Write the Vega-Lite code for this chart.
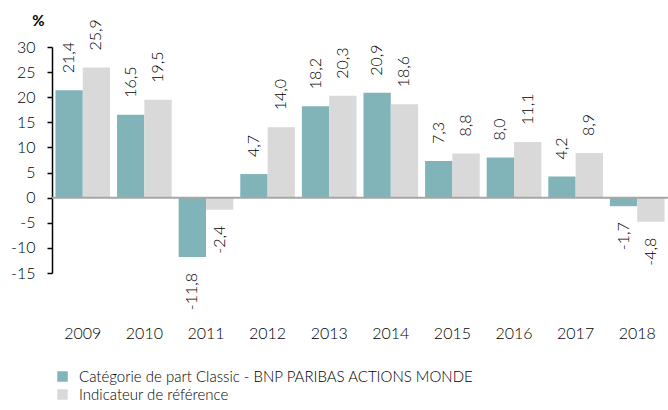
{
  "$schema": "https://vega.github.io/schema/vega-lite/v6.json",
  "width": 616,
  "height": 226,
  "autosize": "none",
  "padding": {"left": 52, "top": 47, "right": 0, "bottom": 137},
  "config": {
    "view": {"stroke": null},
    "font": "Lato",
    "locale": {"number": {"decimal": ",", "thousands": " ", "grouping": [3], "currency": ["", " €"], "minus": "-"}},
    "axis": {"labelFontSize": 16, "labelColor": "#000", "labelFontWeight": 300, "grid": false},
    "axisX": {"domain": false, "ticks": false, "labelPadding": 52, "labelAngle": 0},
    "axisY": {"labelOverlap": false, "labelFlush": false, "domainColor": "#000", "domainWidth": 1.5, "tickColor": "#000", "tickWidth": 1.5, "tickSize": 5, "labelPadding": 12,
      "titleAngle": 0, "titleX": -14, "titleY": -27, "titleAlign": "center", "titleBaseline": "middle", "titleFontSize": 15, "titleFontWeight": "bold", "titleColor": "#000"},
    "legend": {"labelFontWeight": 300}
  },
  "data": {"values": [
    {"year": "2009", "series": "Catégorie de part Classic - BNP PARIBAS ACTIONS MONDE", "value": 21.4},
    {"year": "2009", "series": "Indicateur de référence", "value": 25.9},
    {"year": "2010", "series": "Catégorie de part Classic - BNP PARIBAS ACTIONS MONDE", "value": 16.5},
    {"year": "2010", "series": "Indicateur de référence", "value": 19.5},
    {"year": "2011", "series": "Catégorie de part Classic - BNP PARIBAS ACTIONS MONDE", "value": -11.8},
    {"year": "2011", "series": "Indicateur de référence", "value": -2.4},
    {"year": "2012", "series": "Catégorie de part Classic - BNP PARIBAS ACTIONS MONDE", "value": 4.7},
    {"year": "2012", "series": "Indicateur de référence", "value": 14.0},
    {"year": "2013", "series": "Catégorie de part Classic - BNP PARIBAS ACTIONS MONDE", "value": 18.2},
    {"year": "2013", "series": "Indicateur de référence", "value": 20.3},
    {"year": "2014", "series": "Catégorie de part Classic - BNP PARIBAS ACTIONS MONDE", "value": 20.9},
    {"year": "2014", "series": "Indicateur de référence", "value": 18.6},
    {"year": "2015", "series": "Catégorie de part Classic - BNP PARIBAS ACTIONS MONDE", "value": 7.3},
    {"year": "2015", "series": "Indicateur de référence", "value": 8.8},
    {"year": "2016", "series": "Catégorie de part Classic - BNP PARIBAS ACTIONS MONDE", "value": 8.0},
    {"year": "2016", "series": "Indicateur de référence", "value": 11.1},
    {"year": "2017", "series": "Catégorie de part Classic - BNP PARIBAS ACTIONS MONDE", "value": 4.2},
    {"year": "2017", "series": "Indicateur de référence", "value": 8.9},
    {"year": "2018", "series": "Catégorie de part Classic - BNP PARIBAS ACTIONS MONDE", "value": -1.7},
    {"year": "2018", "series": "Indicateur de référence", "value": -4.8}
  ]},
  "encoding": {
    "x": {"field": "year", "type": "nominal", "scale": {"paddingInner": 0.113, "paddingOuter": 0.056}, "axis": {"title": null}},
    "xOffset": {"field": "series", "type": "nominal", "sort": ["Catégorie de part Classic - BNP PARIBAS ACTIONS MONDE", "Indicateur de référence"]},
    "y": {"field": "value", "type": "quantitative", "scale": {"domain": [-15, 30], "nice": false},
      "axis": {"title": "%", "values": [-15, -10, -5, 0, 5, 10, 15, 20, 25, 30]}}
  },
  "layer": [
    {
      "mark": {"type": "bar"},
      "encoding": {
        "color": {"field": "series", "type": "nominal", "sort": ["Catégorie de part Classic - BNP PARIBAS ACTIONS MONDE", "Indicateur de référence"],
          "scale": {"range": ["#80b4b9", "#d9d9d9"]},
          "legend": {"title": null, "orient": "none", "legendX": 3, "legendY": 322, "direction": "vertical", "symbolType": "square", "symbolSize": 110, "symbolStrokeWidth": 0, "labelFontSize": 15, "labelColor": "#000", "rowPadding": 2, "labelOffset": 9, "labelLimit": 600}}
      }
    },
    {
      "transform": [{"filter": "datum.value >= 0"}],
      "mark": {"type": "text", "angle": -90, "align": "left", "baseline": "middle", "dx": 17, "fontSize": 16, "fontWeight": 300, "color": "#000"},
      "encoding": {
        "text": {"field": "value", "type": "quantitative", "format": ".1f"}
      }
    },
    {
      "transform": [{"filter": "datum.value < 0"}],
      "mark": {"type": "text", "angle": -90, "align": "right", "baseline": "middle", "dx": -16, "fontSize": 16, "fontWeight": 300, "color": "#000"},
      "encoding": {
        "text": {"field": "value", "type": "quantitative", "format": ".1f"}
      }
    },
    {
      "data": {"values": [{"zero": 0}]},
      "mark": {"type": "rule", "color": "#a6a6a6", "strokeWidth": 2},
      "encoding": {"x": null, "xOffset": null, "y": {"field": "zero", "type": "quantitative"}}
    }
  ]
}
